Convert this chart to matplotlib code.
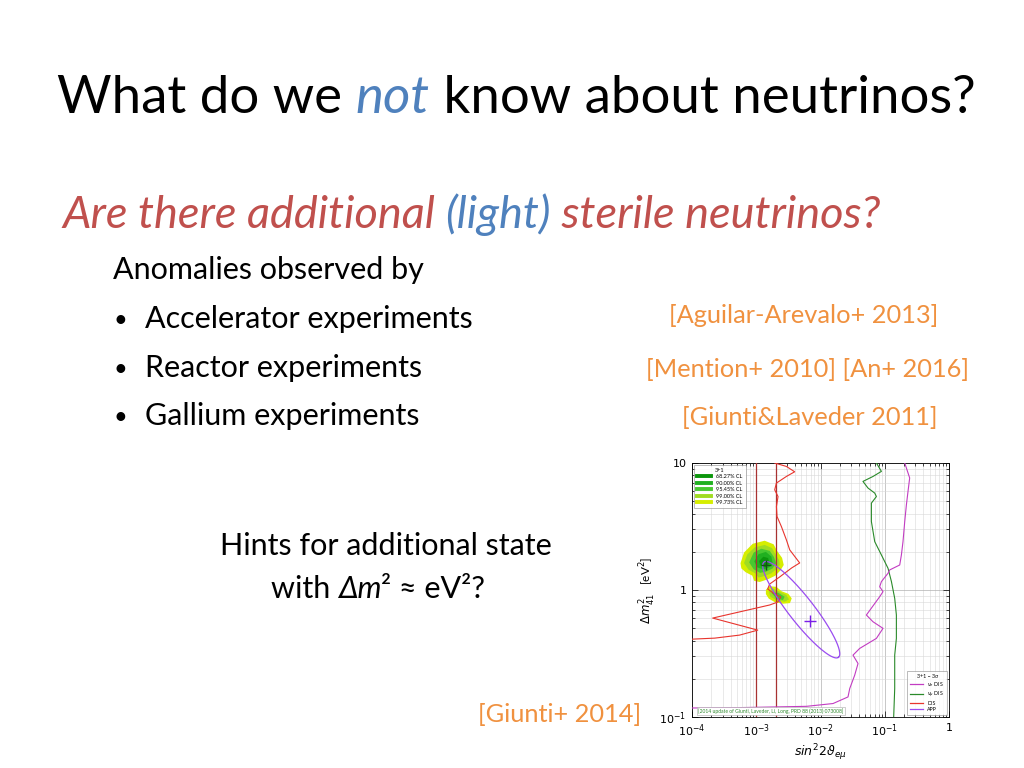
import matplotlib
matplotlib.use("Agg")
import matplotlib.pyplot as plt
import matplotlib.transforms as mtransforms
from matplotlib.lines import Line2D
from matplotlib.ticker import FixedLocator, FixedFormatter, LogLocator, NullFormatter
import numpy as np

# ---------------- slide colours ----------------
RED = "#C0504D"
BLUE = "#4F81BD"
ORANGE = "#F0913F"

# ---------------- plot data (log10 sin^2 2theta, log10 dm2) ----------------
# nu_mu DIS (green)
numu_lx = [-1.130, -1.052, -1.183, -1.339, -1.261, -1.156, -1.130, -1.208, -1.208, -1.156,
           -1.052, -0.949, -0.896, -0.845, -0.819, -0.819, -0.845, -0.845, -0.861]
numu_ly = [1.0, 0.934, 0.894, 0.855, 0.803, 0.763, 0.736, 0.684, 0.539, 0.381,
           0.276, 0.171, 0.066, -0.066, -0.197, -0.381, -0.513, -0.776, -1.0]

# nu_e DIS (magenta)
nue_lx = [-0.689, -0.612, -0.638, -0.663, -0.689, -0.716, -0.741, -0.767, -0.923, -0.949,
          -1.052, -1.079, -1.027, -1.079, -1.286, -1.183, -1.027, -1.130, -1.390, -1.494,
          -1.416, -1.468, -1.545, -1.572, -1.805, -2.219, -3.258, -4.0]
nue_ly = [1.0, 0.882, 0.776, 0.671, 0.539, 0.381, 0.276, 0.197, 0.158, 0.132,
          0.066, 0.026, -0.013, -0.053, -0.197, -0.250, -0.302, -0.381, -0.460, -0.513,
          -0.579, -0.671, -0.776, -0.842, -0.894, -0.916, -0.926, -0.929]

# DIS (red)
dis_lx = [-2.713, -2.531, -2.402, -2.531, -2.686, -2.713, -2.661, -2.686, -2.677, -2.609,
          -2.531, -2.479, -2.324, -2.448, -2.635, -2.791, -2.822, -2.713, -2.619, -2.666,
          -2.791, -3.678, -2.977, -3.258, -3.647, -4.0]
dis_ly = [1.0, 0.973, 0.931, 0.894, 0.842, 0.789, 0.736, 0.657, 0.579, 0.500,
          0.395, 0.316, 0.213, 0.174, 0.103, 0.047, 0.008, -0.032, -0.055, -0.095,
          -0.118, -0.221, -0.316, -0.355, -0.379, -0.387]
dis_bounds = [1.0e-3, 2.0e-3]

# APP (violet) 3 sigma region: elongated ellipse in log-log space
app_center = (-2.30, -0.155)     # log10 values
app_major = (0.58, -0.375)       # half axis, decades
app_minor = (0.153, 0.061)       # half axis, decades
app_best = (6.9e-3, 0.57)
global_best = (1.4e-3, 1.57)

# 3+1 global fit regions
cl_labels = ["68.27% CL", "90.00% CL", "95.45% CL", "99.00% CL", "99.73% CL"]
cl_colors = ["#0c960c", "#20b020", "#48c830", "#a0dc22", "#d6ee00"]

blob_main = {
    "99.73% CL": ([-3.245, -3.190, -3.055, -2.869, -2.730, -2.675, -2.598, -2.572, -2.625, -2.705,
                   -2.817, -2.947, -3.032, -3.062, -3.165, -3.232],
                  [0.211, 0.295, 0.364, 0.388, 0.360, 0.307, 0.253, 0.197, 0.153, 0.112,
                   0.085, 0.063, 0.072, 0.113, 0.140, 0.170]),
    "99.00% CL": ([-3.190, -3.140, -3.025, -2.869, -2.755, -2.705, -2.645, -2.635, -2.695, -2.770,
                   -2.869, -2.965, -3.005, -3.120],
                  [0.212, 0.280, 0.335, 0.355, 0.330, 0.285, 0.237, 0.197, 0.160, 0.130,
                   0.110, 0.098, 0.128, 0.160]),
    "95.45% CL": ([-3.110, -3.040, -2.921, -2.790, -2.725, -2.690, -2.745, -2.843, -2.940, -3.040],
                  [0.218, 0.295, 0.325, 0.308, 0.260, 0.212, 0.170, 0.145, 0.135, 0.163]),
    "90.00% CL": ([-3.030, -2.965, -2.850, -2.765, -2.745, -2.800, -2.890, -2.985],
                  [0.226, 0.282, 0.300, 0.263, 0.213, 0.178, 0.162, 0.178]),
    "68.27% CL": ([-2.955, -2.890, -2.815, -2.795, -2.855, -2.935],
                  [0.228, 0.262, 0.252, 0.208, 0.180, 0.192]),
}
blob_low = {
    "99.73% CL": ([-2.850, -2.795, -2.687, -2.605, -2.500, -2.448, -2.475, -2.584, -2.713, -2.805,
                   -2.850],
                  [0.002, 0.030, 0.025, -0.010, -0.030, -0.066, -0.103, -0.108, -0.095, -0.068,
                   -0.032]),
    "99.00% CL": ([-2.802, -2.739, -2.636, -2.532, -2.490, -2.558, -2.687, -2.781],
                  [-0.013, 0.013, -0.013, -0.039, -0.074, -0.092, -0.079, -0.053]),
    "95.45% CL": ([-2.765, -2.661, -2.558, -2.584, -2.687],
                  [-0.021, -0.021, -0.053, -0.079, -0.068]),
}

# ---------------- figure ----------------
plt.rcParams['font.family'] = ['Lato', 'DejaVu Sans']
fig = plt.figure(figsize=(10.24, 7.68), dpi=100)
fig.patch.set_facecolor("white")
px = mtransforms.IdentityTransform()
H = 768


def run(x, y, parts, size, ha="left"):
    """draw a line of text made of differently coloured pieces (pixel coords, y from top)"""
    r = fig.canvas.get_renderer()
    widths = []
    arts = []
    for s, c, st in parts:
        t = fig.text(0, H - y, s, color=c, style=st, fontsize=size, transform=px, va="baseline")
        widths.append(t.get_window_extent(r).width)
        arts.append(t)
    total = sum(widths)
    x0 = x - total / 2 if ha == "center" else x
    for t, w in zip(arts, widths):
        t.set_x(x0)
        x0 += w


run(57, 113, [("What do we ", "black", "normal"), ("not", BLUE, "italic"),
              (" know about neutrinos?", "black", "normal")], 38)
run(62, 228, [("Are there additional ", RED, "italic"), ("(light)", BLUE, "italic"),
              (" sterile neutrinos?", RED, "italic")], 32.5)

fs = 22
cs = 18.3
fig.text(113, H - 279, "Anomalies observed by", fontsize=fs, transform=px, va="baseline")
for yb, s in zip([328, 377, 425], ["Accelerator experiments", "Reactor experiments",
                                   "Gallium experiments"]):
    fig.text(113, H - yb + 1, "\u2022", fontsize=17, transform=px, va="baseline")
    fig.text(145, H - yb, s, fontsize=fs, transform=px, va="baseline")

for xc, yb, s in zip([804, 807, 810], [323, 377, 425],
                     ["[Aguilar-Arevalo+ 2013]", "[Mention+ 2010] [An+ 2016]",
                      "[Giunti&Laveder 2011]"]):
    fig.text(xc, H - yb, s, fontsize=cs, color=ORANGE, transform=px, va="baseline", ha="center")

fig.text(386, H - 555, "Hints for additional state", fontsize=fs, transform=px,
         va="baseline", ha="center")
run(378, 598, [("with ", "black", "normal"), ("\u0394m", "black", "italic"),
               ("\u00b2 \u2248 eV\u00b2?", "black", "normal")], fs, ha="center")
fig.text(478, H - 722, "[Giunti+ 2014]", fontsize=cs, color=ORANGE, transform=px, va="baseline")

# ---------------- embedded plot ----------------
ax = fig.add_axes([692 / 1024, 1 - 717 / 768, 257 / 1024, 254 / 768])
ax.set_xscale("log")
ax.set_yscale("log")

for blob in (blob_main, blob_low):
    for lab, col in zip(cl_labels[::-1], cl_colors[::-1]):
        if lab in blob:
            lx, ly = blob[lab]
            ax.fill(10 ** np.array(lx), 10 ** np.array(ly), color=col, lw=0, zorder=2)

for xb in dis_bounds:
    ax.axvline(xb, color="#a83232", lw=0.9, zorder=3)
ax.plot(10 ** np.array(dis_lx), 10 ** np.array(dis_ly), color="#e8352e", lw=0.8, zorder=4)
ax.plot(10 ** np.array(numu_lx), 10 ** np.array(numu_ly), color="#2a8a2a", lw=0.8, zorder=4)
ax.plot(10 ** np.array(nue_lx), 10 ** np.array(nue_ly), color="#c23cc2", lw=0.8, zorder=4)

t = np.linspace(0, 2 * np.pi, 200)
el_x = app_center[0] + app_major[0] * np.cos(t) + app_minor[0] * np.sin(t)
el_y = app_center[1] + app_major[1] * np.cos(t) + app_minor[1] * np.sin(t)
ax.plot(10 ** el_x, 10 ** el_y, color="#9a4cf0", lw=0.9, zorder=4)
ax.plot(*app_best, marker="+", ms=8, mew=1.0, color="#7a1ee8", zorder=5)
ax.plot(*global_best, marker="+", ms=7, mew=1.0, color="#115511", zorder=5)

ax.set_xlim(1e-4, 1)
ax.set_ylim(0.1, 10)
ax.grid(True, which="major", color="#b0b0b0", lw=0.5)
ax.grid(True, which="minor", color="#d8d8d8", lw=0.4)
ax.set_axisbelow(True)
ax.xaxis.set_major_locator(FixedLocator([1e-4, 1e-3, 1e-2, 1e-1, 1]))
ax.xaxis.set_major_formatter(FixedFormatter([r"$10^{-4}$", r"$10^{-3}$", r"$10^{-2}$",
                                             r"$10^{-1}$", "1"]))
ax.yaxis.set_major_locator(FixedLocator([0.1, 1, 10]))
ax.yaxis.set_major_formatter(FixedFormatter([r"$10^{-1}$", "1", "10"]))
for a in (ax.xaxis, ax.yaxis):
    a.set_minor_locator(LogLocator(base=10, subs=np.arange(2, 10)))
    a.set_minor_formatter(NullFormatter())
ax.tick_params(which="both", direction="in", top=True, right=True, labelsize=8,
               width=0.5, pad=4)
ax.tick_params(which="major", length=4)
ax.tick_params(which="minor", length=2)
for lab in ax.get_xticklabels() + ax.get_yticklabels():
    lab.set_family("DejaVu Sans")
for sp in ax.spines.values():
    sp.set_linewidth(0.6)
ax.set_xlabel(r"$sin^2 2\vartheta_{e\mu}$", fontsize=9, labelpad=2)
ax.set_ylabel(r"$\Delta m^2_{41}$   [eV$^2$]", fontsize=8.5, labelpad=1)

h1 = [Line2D([], [], color=c, lw=2.8) for c in cl_colors]
leg1 = ax.legend(h1, cl_labels, title="3+1", loc="upper left", fontsize=4, title_fontsize=4,
                 handlelength=2.6, frameon=True, fancybox=False, edgecolor="#888888",
                 borderpad=0.6, labelspacing=0.25, borderaxespad=0.3)
leg1.get_frame().set_linewidth(0.5)
ax.add_artist(leg1)
h2 = [Line2D([], [], color=c, lw=0.9) for c in ["#c23cc2", "#2a8a2a", "#e8352e", "#9a4cf0"]]
leg2 = ax.legend(h2, [r"$\nu_e$ DIS", r"$\nu_\mu$ DIS", "DIS", "APP"], title="3+1 \u2212 3\u03c3",
                 loc="lower right", fontsize=3.8, title_fontsize=3.8, handlelength=2.5,
                 frameon=True, fancybox=False, edgecolor="#888888", borderpad=0.6,
                 labelspacing=0.2, borderaxespad=0.3)
leg2.get_frame().set_linewidth(0.5)

ax.text(0.025, 0.012, "[2014 update of Giunti, Laveder, Li, Long, PRD 88 (2013) 073008]",
        transform=ax.transAxes, fontsize=3.6, color="#2f8a2f", va="bottom", zorder=6,
        bbox=dict(facecolor="white", edgecolor="#aaaaaa", lw=0.4, pad=0.8))

fig.savefig("out.png", dpi=100, facecolor="white")
